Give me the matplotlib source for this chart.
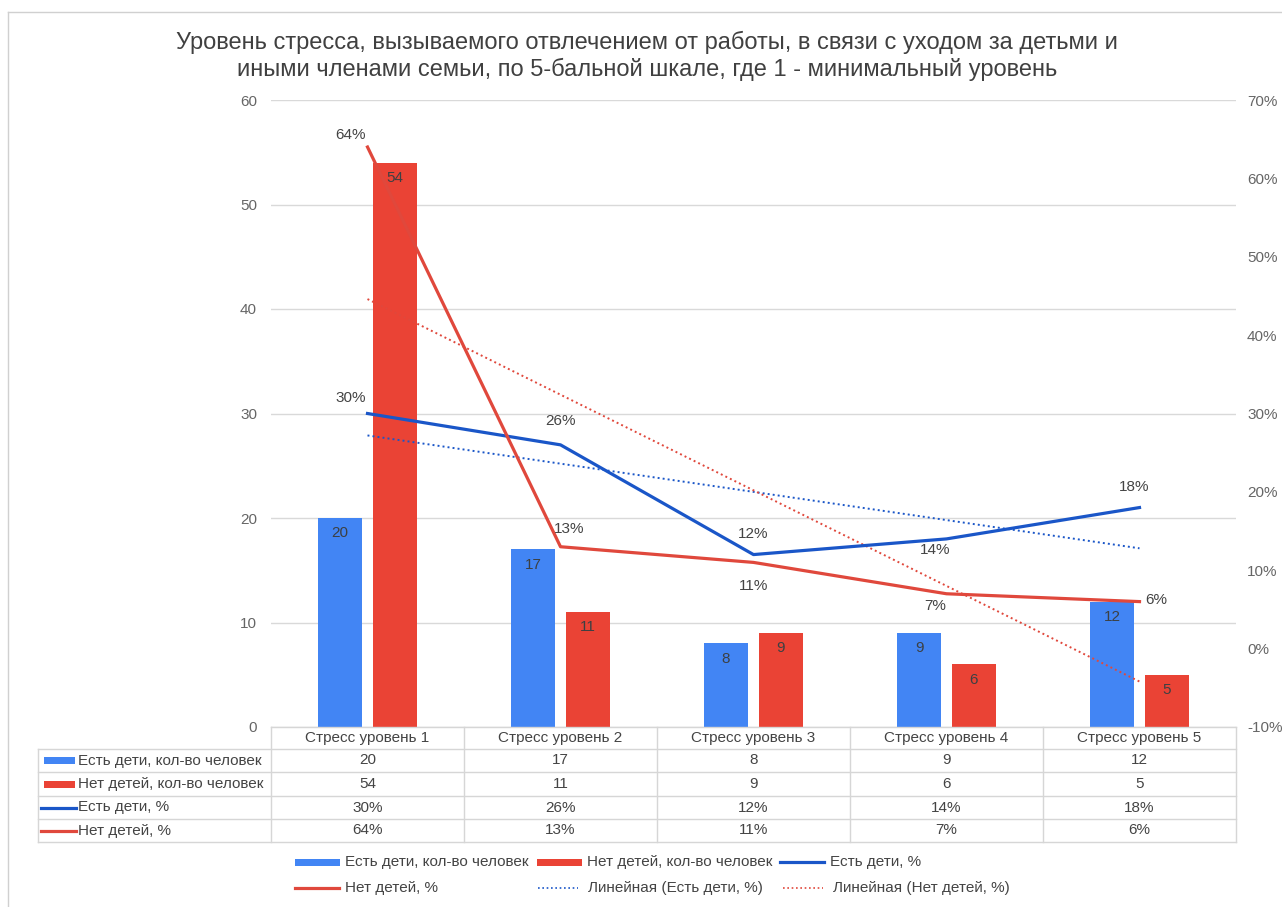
import numpy as np
import matplotlib
matplotlib.use("Agg")
import matplotlib.pyplot as plt
from matplotlib.lines import Line2D
from matplotlib.patches import Rectangle

# data
categories = ["Стресс уровень 1", "Стресс уровень 2", "Стресс уровень 3",
              "Стресс уровень 4", "Стресс уровень 5"]
kids_count = [20, 17, 8, 9, 12]
nokids_count = [54, 11, 9, 6, 5]
kids_pct = [30, 26, 12, 14, 18]
nokids_pct = [64, 13, 11, 7, 6]
series_names = ["Есть дети, кол-во человек", "Нет детей, кол-во человек",
                "Есть дети, %", "Нет детей, %"]
trend_names = ["Линейная (Есть дети, %)", "Линейная (Нет детей, %)"]
left_ticks = [0, 10, 20, 30, 40, 50, 60]
right_ticks = [-10, 0, 10, 20, 30, 40, 50, 60, 70]
title = ("Уровень стресса, вызываемого отвлечением от работы, в связи с уходом за детьми и\n"
         "иными членами семьи, по 5-бальной шкале, где 1 - минимальный уровень")

# colours
BAR_BLUE = "#4285F4"
BAR_RED = "#EA4335"
LINE_BLUE = "#1A56C8"
LINE_RED = "#E0483C"
TXT = "#444444"
GRID = "#D9D9D9"
FS = 11

plt.rcParams['font.family'] = ['Liberation Sans', 'DejaVu Sans']

W, H = 1282, 907


def fx(px):
    return px / W


def fy(py):
    return 1 - py / H


fig = plt.figure(figsize=(W / 100, H / 100), dpi=100)
fig.patch.set_facecolor("white")

# outer frame
fig.add_artist(Line2D([fx(8), 1], [fy(12), fy(12)], color="#D0D0D0", lw=1))
fig.add_artist(Line2D([fx(8), fx(8)], [fy(12), 0], color="#D0D0D0", lw=1))

fig.text(0.505, fy(56), title, ha="center", va="center", fontsize=17,
         color="#404040", linespacing=1.2)

ax = fig.add_axes([fx(271), fy(727), fx(1236) - fx(271), fy(100) - fy(727)])
ax2 = ax.twinx()

x = np.arange(1, len(categories) + 1)
bw = 0.228
ax.bar(x - 0.142, kids_count, bw, color=BAR_BLUE, zorder=2)
ax.bar(x + 0.142, nokids_count, bw, color=BAR_RED, zorder=2)
for xi, v in zip(x, kids_count):
    ax.annotate(str(v), (xi - 0.142, v), xytext=(0, -11), textcoords="offset points",
                ha="center", va="center", fontsize=FS, color="#3C4043", zorder=3)
for xi, v in zip(x, nokids_count):
    ax.annotate(str(v), (xi + 0.142, v), xytext=(0, -11), textcoords="offset points",
                ha="center", va="center", fontsize=FS, color="#3C4043", zorder=3)

ax.set_xlim(0.5, 5.5)
ax.set_ylim(0, 60)
ax.set_yticks(left_ticks)
ax.set_xticks([])
ax.grid(axis="y", color=GRID, lw=1, zorder=0)
ax.set_axisbelow(True)
ax.tick_params(axis="y", length=0, pad=10, labelsize=FS, labelcolor="#666666")
for s in ax.spines.values():
    s.set_visible(False)

# percentage lines and linear trends
ax2.plot(x, kids_pct, color=LINE_BLUE, lw=2.3, zorder=4)
ax2.plot(x, nokids_pct, color=LINE_RED, lw=2.3, zorder=4)
for vals, col in ((kids_pct, LINE_BLUE), (nokids_pct, LINE_RED)):
    k, b = np.polyfit(x, vals, 1)
    ax2.plot(x, k * x + b, color=col, lw=1.4, ls=(0, (1, 1.6)), zorder=3)

kids_off = [(-12, 11), (0, 17), (0, 15), (-8, -8), (-4, 15)]
nokids_off = [(-12, 9), (6, 13), (0, -17), (-8, -9), (12, 1)]
for xi, v, off in zip(x, kids_pct, kids_off):
    ax2.annotate(f"{v}%", (xi, v), xytext=off, textcoords="offset points",
                 ha="center", va="center", fontsize=FS, color=TXT, zorder=5)
for xi, v, off in zip(x, nokids_pct, nokids_off):
    ax2.annotate(f"{v}%", (xi, v), xytext=off, textcoords="offset points",
                 ha="center", va="center", fontsize=FS, color=TXT, zorder=5)

ax2.set_ylim(-10, 70)
ax2.set_yticks(right_ticks)
ax2.set_yticklabels([f"{t}%" for t in right_ticks])
ax2.tick_params(axis="y", length=0, pad=8, labelsize=FS, labelcolor="#666666")
for s in ax2.spines.values():
    s.set_visible(False)

# data table under the plot
col_edges = [271 + 193 * i for i in range(6)]
row_edges = [727, 749, 772, 796, 819, 842]
lc = "#D6D6D6"
for yy in row_edges:
    x0 = 271 if yy == 727 else 38
    fig.add_artist(Line2D([fx(x0), fx(1236)], [fy(yy), fy(yy)], color=lc, lw=1))
for xx in col_edges:
    fig.add_artist(Line2D([fx(xx), fx(xx)], [fy(727), fy(842)], color=lc, lw=1))
fig.add_artist(Line2D([fx(38), fx(38)], [fy(749), fy(842)], color=lc, lw=1))

for i, c in enumerate(categories):
    fig.text(fx((col_edges[i] + col_edges[i + 1]) / 2), fy(738), c, ha="center",
             va="center", fontsize=FS, color=TXT)

rows = [[str(v) for v in kids_count], [str(v) for v in nokids_count],
        [f"{v}%" for v in kids_pct], [f"{v}%" for v in nokids_pct]]
row_colors = [BAR_BLUE, BAR_RED, LINE_BLUE, LINE_RED]
for r in range(4):
    yc = (row_edges[r + 1] + row_edges[r + 2]) / 2
    if r < 2:
        fig.add_artist(Rectangle((fx(44), fy(yc + 3.5)), fx(75) - fx(44), fy(yc - 3.5) - fy(yc + 3.5),
                                 color=row_colors[r], lw=0))
    else:
        fig.add_artist(Line2D([fx(41), fx(76)], [fy(yc), fy(yc)], color=row_colors[r], lw=2.3))
    fig.text(fx(78), fy(yc), series_names[r], ha="left", va="center", fontsize=FS, color=TXT)
    for i, t in enumerate(rows[r]):
        fig.text(fx((col_edges[i] + col_edges[i + 1]) / 2), fy(yc), t, ha="center",
                 va="center", fontsize=FS, color=TXT)

# legend
legend_items = [
    ("bar", BAR_BLUE, series_names[0], 295, 862),
    ("bar", BAR_RED, series_names[1], 537, 862),
    ("line", LINE_BLUE, series_names[2], 780, 862),
    ("line", LINE_RED, series_names[3], 295, 888),
    ("dot", LINE_BLUE, trend_names[0], 538, 888),
    ("dot", LINE_RED, trend_names[1], 783, 888),
]
for kind, col, name, lx, ly in legend_items:
    if kind == "bar":
        fig.add_artist(Rectangle((fx(lx), fy(ly + 3.5)), fx(lx + 45) - fx(lx), fy(ly - 3.5) - fy(ly + 3.5),
                                 color=col, lw=0))
    elif kind == "line":
        fig.add_artist(Line2D([fx(lx), fx(lx + 44)], [fy(ly), fy(ly)], color=col, lw=2.3))
    else:
        fig.add_artist(Line2D([fx(lx), fx(lx + 40)], [fy(ly), fy(ly)], color=col, lw=1.2,
                              ls=(0, (1, 1.6))))
    fig.text(fx(lx + 50), fy(ly), name, ha="left", va="center", fontsize=FS, color=TXT)

fig.savefig("out.png", dpi=100, facecolor="white")
